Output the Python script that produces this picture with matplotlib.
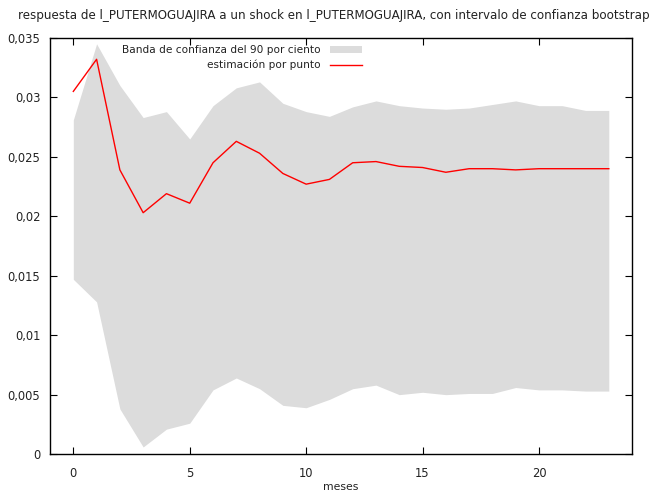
import matplotlib
matplotlib.use("Agg")
import matplotlib.pyplot as plt
from matplotlib.ticker import FuncFormatter, MultipleLocator

# ── Datos: respuesta al impulso con banda bootstrap ─────────────────────────
meses = list(range(24))
estimacion = [0.0305, 0.0332, 0.0239, 0.0203, 0.0219, 0.0211, 0.0245, 0.0263,
              0.0253, 0.0236, 0.0227, 0.0231, 0.0245, 0.0246, 0.0242, 0.0241,
              0.0237, 0.0240, 0.0240, 0.0239, 0.0240, 0.0240, 0.0240, 0.0240]
banda_sup = [0.0281, 0.0345, 0.0310, 0.0283, 0.0288, 0.0265, 0.0293, 0.0308,
             0.0313, 0.0295, 0.0288, 0.0284, 0.0292, 0.0297, 0.0293, 0.0291,
             0.0290, 0.0291, 0.0294, 0.0297, 0.0293, 0.0293, 0.0289, 0.0289]
banda_inf = [0.0147, 0.0128, 0.0038, 0.0006, 0.0021, 0.0026, 0.0054, 0.0064,
             0.0055, 0.0041, 0.0039, 0.0046, 0.0055, 0.0058, 0.0050, 0.0052,
             0.0050, 0.0051, 0.0051, 0.0056, 0.0054, 0.0054, 0.0053, 0.0053]

titulo = ("respuesta de l_PUTERMOGUAJIRA a un shock en l_PUTERMOGUAJIRA, "
          "con intervalo de confianza bootstrap")

plt.rcParams["font.family"] = ["DejaVu Sans"]
txt = "#222222"

fig = plt.figure(figsize=(6.54, 4.92), dpi=100)
ax = fig.add_axes([0.0765, 0.077, 0.890, 0.846])

ax.fill_between(meses, banda_inf, banda_sup, color="#dcdcdc", linewidth=0,
                label="Banda de confianza del 90 por ciento")
ax.plot(meses, estimacion, color="#ff0000", linewidth=1.0,
        label="estimación por punto")

ax.set_xlim(-1, 24)
ax.set_ylim(0, 0.035)
ax.xaxis.set_major_locator(MultipleLocator(5))
ax.yaxis.set_major_locator(MultipleLocator(0.005))
ax.yaxis.set_major_formatter(FuncFormatter(
    lambda v, p: "0" if abs(v) < 1e-12 else f"{v:.3f}".rstrip("0").replace(".", ",")))
ax.tick_params(direction="in", top=True, right=True, length=5, width=0.8,
               labelsize=8.3, labelcolor=txt)
ax.tick_params(axis="x", pad=9)
ax.tick_params(axis="y", pad=7)
for s in ax.spines.values():
    s.set_linewidth(1.0)

# etiqueta del eje x colocada a mano para que no se corte
ax.set_xlabel("meses", fontsize=7.8, color=txt, va="center")
ax.xaxis.set_label_coords(0.5, -0.080)

leg = ax.legend(loc="upper right", bbox_to_anchor=(0.541, 0.99),
                markerfirst=False, frameon=False, fontsize=7.6,
                borderaxespad=0, borderpad=0.3, handlelength=3.0,
                handleheight=0.7, labelspacing=0.45, handletextpad=0.9)
for t in leg.get_texts():
    t.set_color(txt)

fig.text(0.028, 0.969, titulo, fontsize=8.6, ha="left", va="center", color=txt)

fig.savefig("out.png", dpi=100)
